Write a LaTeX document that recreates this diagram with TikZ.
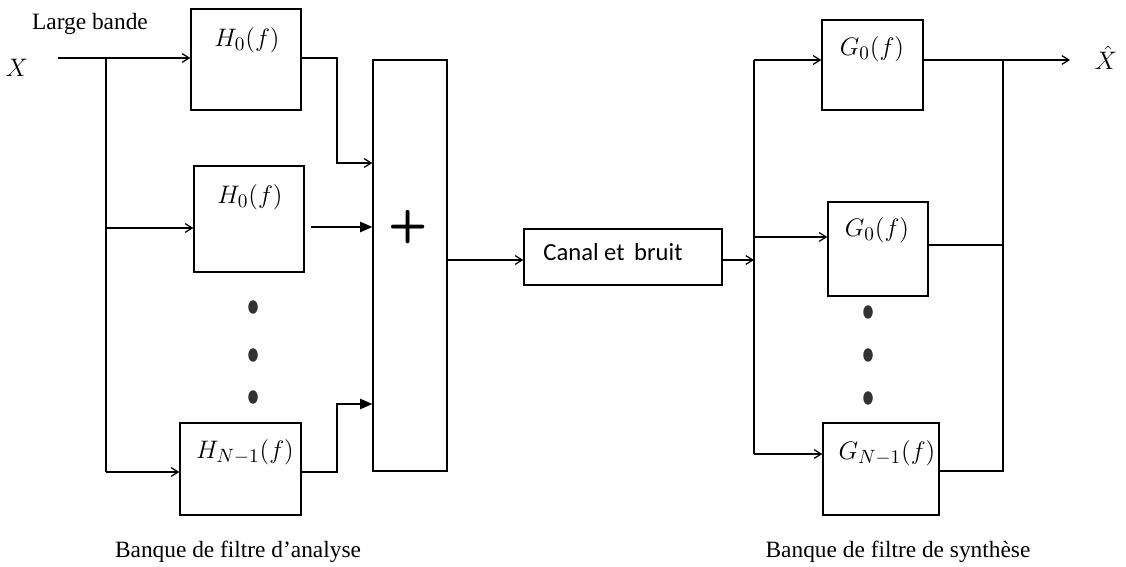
\documentclass[tikz,border=0pt]{standalone}
\usepackage{fontspec}
\usepackage{amsmath}
\usepackage{tikz}
\usetikzlibrary{arrows.meta,shapes.geometric}
\setmainfont{Liberation Serif}
\newfontfamily\calibri{Carlito}
\tikzstyle{block} = [draw, line width = 0.8pt, inner sep = 0pt]
\tikzstyle{wire} = [line width = 0.7pt]
\tikzstyle{open} = [wire, -{Straight Barb[length = 4pt, width = 5pt]}]
\tikzstyle{full} = [wire, -{Triangle[length = 7pt, width = 6pt]}]
\tikzstyle{dot} = [ellipse, fill = black!80, inner sep = 0pt, minimum width = 0.19cm, minimum height = 0.27cm]
\tikzstyle{flt} = [font = \fontsize{15}{17}\selectfont]
\tikzstyle{legend} = [font = \fontsize{13.3}{15}\selectfont]

\begin{document}
\begin{tikzpicture}[x = 0.02cm, y = -0.02cm]
            \useasboundingbox (0, 0) rectangle (1126, 567);
            % analyse
            \node (lb) at (90, 24) [legend] {Large bande};
            \node (X) at (17, 68) [flt] {$X$};
            \coordinate (in) at (58, 58);
            \coordinate (br) at (106, 58);
            \node (h0a) at (246, 59.5) [block, minimum width = 2.2cm, minimum height = 2.02cm] {};
            \node (h0at) at (247, 40) [flt] {$H_0(f)$};
            \node (h0b) at (249, 219) [block, minimum width = 2.2cm, minimum height = 2.12cm] {};
            \node (h0bt) at (250, 197) [flt] {$H_0(f)$};
            \node (hn) at (240.5, 469) [block, minimum width = 2.42cm, minimum height = 1.84cm] {};
            \node (hnt) at (245, 452) [flt] {$H_{N-1}(f)$};
            \node (d1) at (253, 307) [dot] {};
            \node (d2) at (253, 355) [dot] {};
            \node (d3) at (253, 397) [dot] {};
            \node (sum) at (410, 265.5) [block, minimum width = 1.48cm, minimum height = 8.22cm] {};
            \node (plus) at (408, 227) [font = \fontsize{26}{26}\selectfont\sffamily\bfseries] {+};
            \draw [wire] (in) -- (br) -- (br |- 0, 472);
            \draw [open] (in) -- (in -| h0a.west);
            \draw [open] (br |- 0, 228) -- (h0b.west |- 0, 228);
            \draw [open] (br |- 0, 472) -- (hn.west |- 0, 472);
            \coordinate (b1) at (337, 58);
            \coordinate (b2) at (311, 227);
            \coordinate (b3) at (337, 472);
            \draw [open] (b1 -| h0a.east) -- (b1) |- (sum.west |- 0, 163);
            \draw [full] (b2) -- (sum.west |- b2);
            \draw [full] (b3 -| hn.east) -- (b3) |- (sum.west |- 0, 404);
            % canal
            \node (canal) at (623, 257) [block, minimum width = 3.96cm, minimum height = 1.12cm] {};
            \node (canalt) at (613, 252) [font = \fontsize{14}{16}\selectfont\calibri] {Canal et\, bruit};
            \coordinate (sp) at (754, 260);
            \draw [open] (sum.east |- sp) -- (canal.west |- sp);
            \draw [open] (canal.east |- sp) -- (sp);
            % synthese
            \node (g0a) at (872.5, 65) [block, minimum width = 2.02cm, minimum height = 1.8cm] {};
            \node (g0at) at (872, 49) [flt] {$G_0(f)$};
            \node (g0b) at (878, 249) [block, minimum width = 2cm, minimum height = 1.88cm] {};
            \node (g0bt) at (877, 230) [flt] {$G_0(f)$};
            \node (gn) at (881, 469) [block, minimum width = 2.32cm, minimum height = 1.84cm] {};
            \node (gnt) at (887, 453) [flt] {$G_{N-1}(f)$};
            \node (d4) at (868, 312) [dot] {};
            \node (d5) at (868, 355) [dot] {};
            \node (d6) at (868, 398) [dot] {};
            \draw [wire] (754, 60) -- (754, 454);
            \draw [open] (754, 60) -- (g0a.west |- 0, 60);
            \draw [open] (754, 237) -- (g0b.west |- 0, 237);
            \draw [open] (754, 454) -- (gn.west |- 0, 454);
            \coordinate (c1) at (1003, 60);
            \coordinate (c3) at (1003, 471);
            \node (Xh) at (1106, 58) [flt] {$\hat{X}$};
            \draw [open] (g0a.east |- c1) -- (1070, 60);
            \draw [wire] (c1) -- (c3) -- (gn.east |- c3);
            \draw [wire] (g0b.east |- 0, 245) -- (c1 |- 0, 245);
            % legendes
            \node (ana) at (238, 552) [legend] {Banque de filtre d'analyse};
            \node (syn) at (898, 552) [legend] {Banque de filtre de synthèse};
        \end{tikzpicture}
\end{document}
